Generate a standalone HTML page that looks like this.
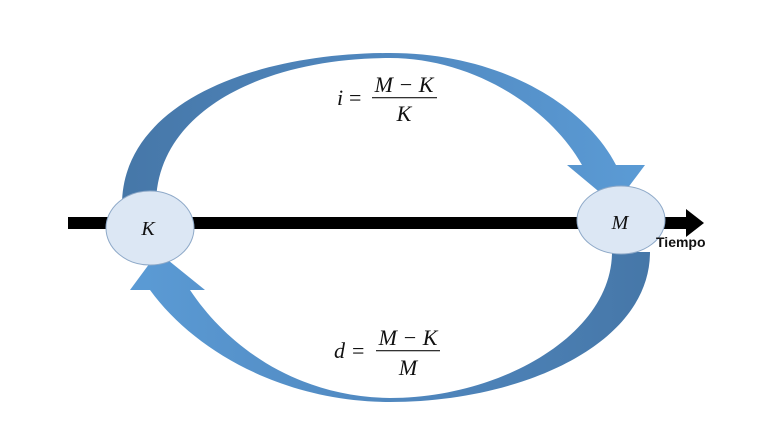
<!DOCTYPE html>
<html><head><meta charset="utf-8"><style>
html,body{margin:0;padding:0;background:#fff;width:768px;height:432px;overflow:hidden}
</style></head><body>
<svg width="768" height="432" viewBox="0 0 768 432" xmlns="http://www.w3.org/2000/svg">
<defs>
<linearGradient id="gt" x1="0" y1="0" x2="1" y2="0">
<stop offset="0" stop-color="#4677a8"/><stop offset="0.45" stop-color="#4f86bd"/><stop offset="1" stop-color="#5b9bd5"/>
</linearGradient>
<linearGradient id="gb" x1="1" y1="0" x2="0" y2="0">
<stop offset="0" stop-color="#4677a8"/><stop offset="0.45" stop-color="#4f86bd"/><stop offset="1" stop-color="#5b9bd5"/>
</linearGradient>
</defs>
<rect x="68" y="217" width="622" height="12" fill="#000"/>
<polygon points="686,209 704,223 686,237" fill="#000"/>
<path d="M122,205 C122,105 250,53 390,53 C500,53 585,105 616,165 L645,165 L615,205 L567,165 L582,165 C548,105 470,58 390,58 C265,58 156,110 156,205 Z" fill="url(#gt)"/>
<path d="M612,252 L650,252 C650,345 520,402 390,402 C285,402 195,352 150,290 L130,290 L158,252 L205,290 L190,290 C230,350 300,397 390,398 C500,398 612,335 612,252 Z" fill="url(#gb)"/>
<ellipse cx="150" cy="228" rx="44" ry="37" fill="#dce7f4" stroke="#8ea9c8" stroke-width="1"/>
<ellipse cx="621" cy="220" rx="44" ry="34" fill="#dce7f4" stroke="#8ea9c8" stroke-width="1"/>
<g font-family="Liberation Serif, serif" font-style="italic" font-size="22" fill="#111">
<text x="148" y="235" text-anchor="middle" font-size="20">K</text>
<text x="620" y="229" text-anchor="middle" font-size="20">M</text>
<text x="337" y="105">i</text>
<text x="349" y="105" font-style="normal">=</text>
<text x="404" y="92" text-anchor="middle">M − K</text>
<text x="404" y="121" text-anchor="middle">K</text>
<text x="334" y="358">d</text>
<text x="352" y="358" font-style="normal">=</text>
<text x="408" y="345" text-anchor="middle">M − K</text>
<text x="408" y="375" text-anchor="middle">M</text>
</g>
<rect x="372" y="97" width="65" height="1.3" fill="#333"/>
<rect x="376" y="350" width="64" height="1.3" fill="#333"/>
<text x="656" y="247" font-family="Liberation Sans, sans-serif" font-weight="bold" font-size="14" fill="#111">Tiempo</text>
</svg>
</body></html>
